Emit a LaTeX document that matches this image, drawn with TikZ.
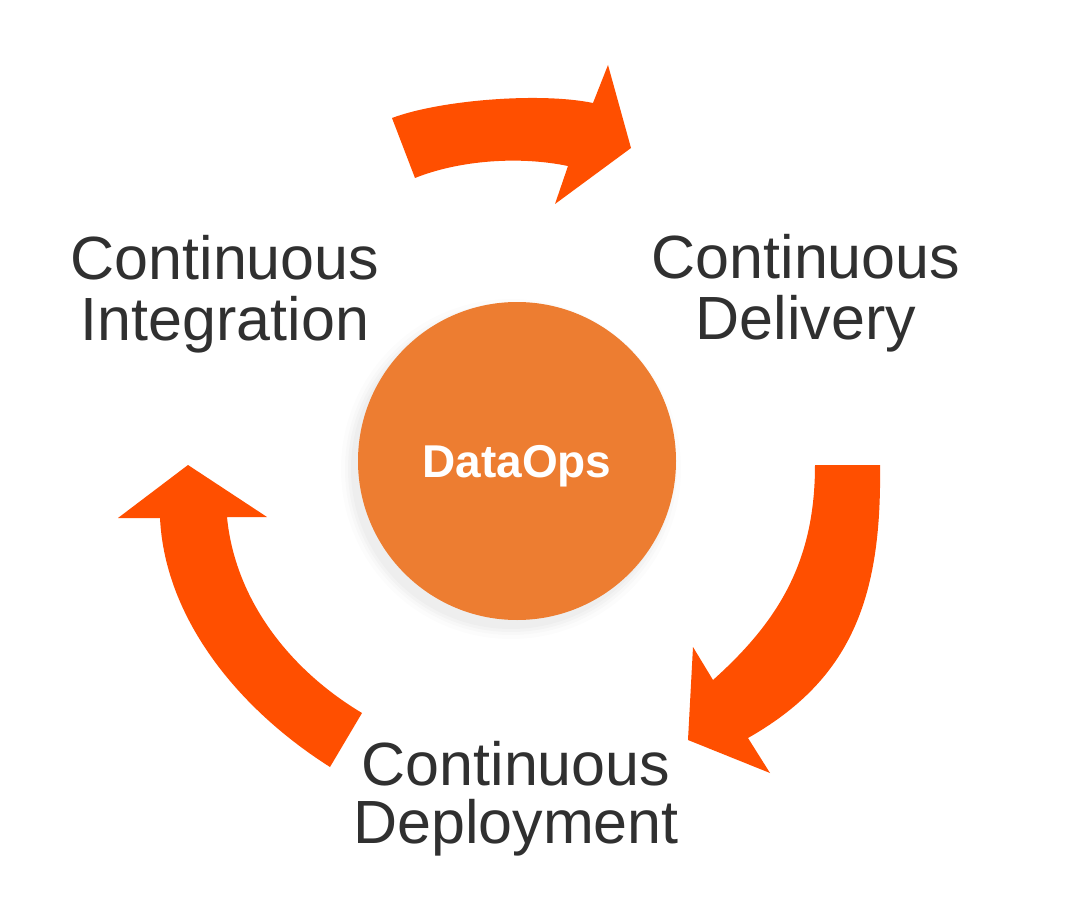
\documentclass[tikz,border=0pt]{standalone}
\usepackage{fontspec}
\setmainfont{Liberation Sans}
\definecolor{arrowred}{HTML}{FF4F00}
\definecolor{dataorange}{HTML}{ED7D31}
\definecolor{labelgray}{HTML}{303030}
\tikzset{
  bigarrow/.style={fill=arrowred, draw=none},
  phase/.style={align=center, inner sep=0pt, text=labelgray, anchor=north,
    font=\fontsize{61}{61}\selectfont},
  hub/.style={circle, fill=dataorange, minimum size=318pt, inner sep=0pt,
    text=white, font=\fontsize{46}{46}\selectfont\bfseries,
    text height=34pt, text depth=2pt}
}
\begin{document}
\begin{tikzpicture}[x=1pt,y=-1pt]
\useasboundingbox (0,0) rectangle (1080,923);
\fill[white] (0,0) rectangle (1080,923);
% faint shadow under the hub
\foreach \r/\o in {170/0.012,166/0.015,163/0.018,160/0.02}
  \fill[black, opacity=\o] (511,469) circle (\r);
% hub
\node[hub] (hub) at (517,461) {DataOps};
% labels
\node[phase] (ci) at (225,235) {Continuous\\Integration};
\node[phase] (cdel) at (806,234) {Continuous\\Delivery};
\node[phase, font=\fontsize{61}{58}\selectfont] (cdep) at (516,741) {Continuous\\Deployment};
% top arrow (Integration -> Delivery)
\fill[bigarrow] (392,118) .. controls (440,100) and (540,92) .. (593,103)
  -- (608,65) -- (631,148) -- (555,204) -- (568,166)
  .. controls (520,156) and (460,160) .. (415,178) -- cycle;
% right arrow (Delivery -> Deployment)
\fill[bigarrow] (815,465) -- (880,465)
  .. controls (882,600) and (850,680) .. (748,738)
  -- (770,773) -- (688,740) -- (693,647) -- (713,680)
  .. controls (780,620) and (815,560) .. (815,465) -- cycle;
% left arrow (Deployment -> Integration)
\fill[bigarrow] (330,767) .. controls (240,710) and (165,620) .. (160,518)
  -- (118,518) -- (188,465) -- (267,517) -- (227,517)
  .. controls (235,600) and (290,670) .. (362,713) -- cycle;
\end{tikzpicture}
\end{document}
